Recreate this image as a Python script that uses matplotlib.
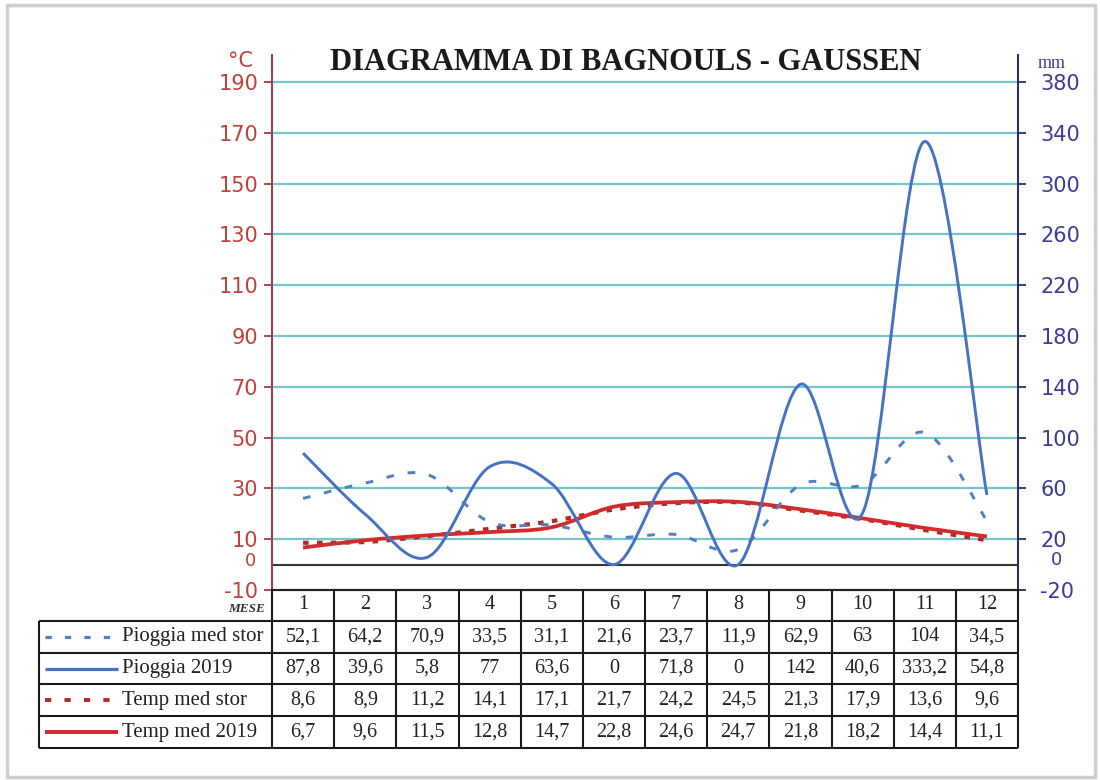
import numpy as np
import matplotlib
matplotlib.use("Agg")
import matplotlib.pyplot as plt
from matplotlib.path import Path
from matplotlib.patches import PathPatch, Rectangle

# dati
mesi = [1, 2, 3, 4, 5, 6, 7, 8, 9, 10, 11, 12]
pioggia_stor = [52.1, 64.2, 70.9, 33.5, 31.1, 21.6, 23.7, 11.9, 62.9, 63, 104, 34.5]
pioggia_2019 = [87.8, 39.6, 5.8, 77, 63.6, 0, 71.8, 0, 142, 40.6, 333.2, 54.8]
temp_stor = [8.6, 8.9, 11.2, 14.1, 17.1, 21.7, 24.2, 24.5, 21.3, 17.9, 13.6, 9.6]
temp_2019 = [6.7, 9.6, 11.5, 12.8, 14.7, 22.8, 24.6, 24.7, 21.8, 18.2, 14.4, 11.1]
serie_nomi = ["Pioggia med stor", "Pioggia 2019", "Temp med stor", "Temp med 2019"]
tick_sx = [-10, 10, 30, 50, 70, 90, 110, 130, 150, 170, 190]
tick_dx = [-20, 20, 60, 100, 140, 180, 220, 260, 300, 340, 380]

plt.rcParams['lines.scale_dashes'] = False
plt.rcParams['axes.unicode_minus'] = False
SERIF = ['Liberation Serif', 'DejaVu Serif']
SANS = ['DejaVu Sans']

BLU = '#4472c4'
BLU_D = '#4f7fc4'
ROSSO = '#d22b2b'
ROSSO_D = '#b02a2a'
GRIGLIA = '#74c7c9'
C_SX = '#c0403c'
C_DX = '#3c3c96'


def smooth_path(x, y):
    # curva "smussata" tipo Excel (Catmull-Rom -> Bezier)
    pts = np.column_stack([x, y]).astype(float)
    n = len(pts)
    verts = [pts[0]]
    codes = [Path.MOVETO]
    for i in range(n - 1):
        p0 = pts[max(i - 1, 0)]
        p1 = pts[i]
        p2 = pts[i + 1]
        p3 = pts[min(i + 2, n - 1)]
        verts += [p1 + (p2 - p0) / 6, p2 - (p3 - p1) / 6, p2]
        codes += [Path.CURVE4] * 3
    return Path(verts, codes)


W, H = 1100, 780
fig = plt.figure(figsize=(11, 7.8), dpi=100)


def px(x, y):
    return x / W, 1 - y / H


# cornice
fig.patches.append(Rectangle(px(7, 777), 1088 / W, 772 / H,
                             transform=fig.transFigure, fill=False,
                             edgecolor='#cfcfcf', lw=2.5))

ymax = 190 + 27 / 2.54
ax = fig.add_axes([272 / W, 1 - 590 / H, 746 / W, 535 / H])
ax.set_xlim(0.5, 12.5)
ax.set_ylim(-10, ymax)
ax2 = ax.twinx()
ax2.set_ylim(-20, 2 * ymax)

for y in tick_sx[1:]:
    ax.axhline(y, color=GRIGLIA, lw=1.6, zorder=1)
ax.axhline(0, color='#333333', lw=1.5, zorder=1)

ax.set_xticks([])
ax.set_yticks(tick_sx)
ax.tick_params(axis='y', colors='#a83a3a', length=6, width=1.3, pad=4,
               labelsize=15, labelcolor=C_SX)
for lab in ax.get_yticklabels():
    lab.set_family(SANS)
ax2.set_yticks(tick_dx)
ax2.tick_params(axis='y', colors='#2a2a6a', length=6, width=1.3, pad=10,
                labelsize=15, labelcolor=C_DX)
for lab in ax2.get_yticklabels():
    lab.set_family(SANS)

for a in (ax, ax2):
    a.spines['top'].set_visible(False)
    a.spines['bottom'].set_color('#222222')
    a.spines['bottom'].set_linewidth(1.5)
    a.spines['left'].set_color('#a83a3a')
    a.spines['right'].set_color('#2a2a6a')
    a.spines['left'].set_linewidth(1.3)
    a.spines['right'].set_linewidth(1.3)
    a.patch.set_visible(False)

# etichette "0" sotto 10 / 20 e unita'
fig.text(*px(250, 561), "0", ha='center', va='center', color=C_SX,
         fontsize=13, family=SANS)
fig.text(*px(1057, 560), "0", ha='center', va='center', color=C_DX,
         fontsize=13, family=SANS)
fig.text(*px(240, 61), "°C", ha='center', va='center', color=C_SX,
         fontsize=15, family=SANS)
fig.text(*px(1052, 63), "mm", ha='center', va='center', color=C_DX,
         fontsize=13, family=SERIF)

# serie temperatura (asse sinistro)
ax.add_patch(PathPatch(smooth_path(mesi, temp_stor), fill=False, ec=ROSSO_D,
                       lw=3, linestyle=(0, (4, 6)), zorder=3))
ax.add_patch(PathPatch(smooth_path(mesi, temp_2019), fill=False, ec=ROSSO,
                       lw=2.7, zorder=4))
# serie pioggia (asse destro)
ax2.add_patch(PathPatch(smooth_path(mesi, pioggia_stor), fill=False, ec=BLU_D,
                        lw=2.1, linestyle=(0, (5.5, 10)), zorder=3))
ax2.add_patch(PathPatch(smooth_path(mesi, pioggia_2019), fill=False, ec=BLU,
                        lw=2.1, zorder=4))

fig.text(*px(626, 62), "DIAGRAMMA DI BAGNOULS - GAUSSEN", ha='center',
         va='center', fontsize=22, fontweight='bold', family=SERIF,
         color='#1a1a1a')

# tabella dati
unit = 746 / 12
tx0 = 0.5 - (272 - 39) / unit
tab = fig.add_axes([39 / W, 1 - 748 / H, (1018 - 39) / W, 159 / H])
tab.set_xlim(tx0, 12.5)
tab.set_ylim(5, 0)
tab.axis('off')

bordo = dict(color='#1a1a1a', lw=1.5, clip_on=False)
tab.hlines([1, 2, 3, 4, 5], tx0, 12.5, **bordo)
tab.vlines(np.arange(0.5, 13.5, 1), 0, 5, **bordo)
tab.vlines([tx0], 1, 5, **bordo)

tab.text(0.5 - 7 / unit, 0.62, "MESE", ha='right', va='center', fontsize=9.5,
         fontstyle='italic', fontweight='bold', family=SERIF, color='#333333')
for m in mesi:
    tab.text(m, 0.5, str(m), ha='center', va='center', fontsize=14.5,
             family=SERIF, color='#222222')

righe = [pioggia_stor, pioggia_2019, temp_stor, temp_2019]
stili = [(BLU_D, 2.3, (0, (4.5, 9.5))), (BLU, 2.3, '-'),
         (ROSSO_D, 2.8, (0, (4.5, 9.5))), (ROSSO, 2.8, '-')]
lx0 = tx0 + 6 / unit
lx1 = tx0 + 79 / unit
for r, (nome, vals, st) in enumerate(zip(serie_nomi, righe, stili), start=1):
    yc = r + 0.5
    tab.plot([lx0, lx1], [yc, yc], color=st[0], lw=st[1], linestyle=st[2],
             solid_capstyle='butt')
    tab.text(lx1 + 4 / unit, yc, nome, ha='left', va='center', fontsize=15,
             family=SERIF, color='#222222')
    for m, v in zip(mesi, vals):
        tab.text(m, yc, f"{v:g}".replace('.', ','), ha='center', va='center',
                 fontsize=14.5, family=SERIF, color='#222222')

fig.savefig("out.png", dpi=100, facecolor='white')
